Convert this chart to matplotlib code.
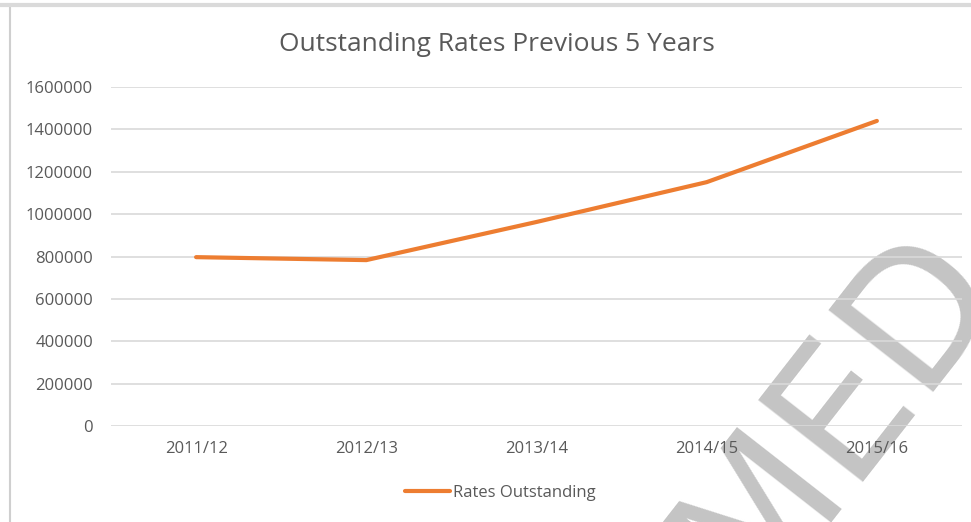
import matplotlib.pyplot as plt
from matplotlib.lines import Line2D

years = ["2011/12", "2012/13", "2013/14", "2014/15", "2015/16"]
rates_outstanding = [797000, 783000, 963000, 1151000, 1440000]
y_ticks = [0, 200000, 400000, 600000, 800000, 1000000, 1200000, 1400000, 1600000]

plt.rcParams['font.family'] = ['Open Sans', 'DejaVu Sans']

fig = plt.figure(figsize=(9.71, 5.22), dpi=100)
ax = fig.add_axes([0.1143, 0.1839, 0.8764, 0.6494])
ax.patch.set_alpha(0)

x = list(range(len(years)))
ax.plot(x, rates_outstanding, color='#ED7D31', linewidth=3, solid_capstyle='round',
        label="Rates Outstanding")

ax.set_xlim(-0.5, len(years) - 0.5)
ax.set_ylim(0, 1600000)
ax.set_yticks(y_ticks)
ax.set_yticklabels([str(v) for v in y_ticks])
ax.set_xticks(x)
ax.set_xticklabels(years)
ax.tick_params(length=0, labelsize=12, colors='#595959')
ax.tick_params(axis='y', pad=13)
ax.tick_params(axis='x', pad=11)
ax.grid(axis='y', color='#D9D9D9', linewidth=1.2)
ax.set_axisbelow(True)
for s in ax.spines.values():
    s.set_visible(False)

fig.text(0.512, 0.915, "Outstanding Rates Previous 5 Years", ha='center', va='center',
         fontsize=19, color='#595959')

fig.legend(loc='center', bbox_to_anchor=(0.515, 0.055), frameon=False, fontsize=12,
           handlelength=2.7, handletextpad=0.2, labelcolor='#595959')

# frame lines of the original screenshot
fig.add_artist(Line2D([0.0105, 0.0105], [0, 0.99], transform=fig.transFigure,
                      color='#CFCFCF', linewidth=1.5))
fig.add_artist(Line2D([0, 1], [0.99, 0.99], transform=fig.transFigure,
                      color='#DADADA', linewidth=3))

# watermark, behind the chart
fig.text(0.862, 0.21, "MED", fontsize=130, color='#C4C4C4', rotation=52,
         ha='center', va='center', family='DejaVu Sans', zorder=-1)

fig.savefig("out.png", dpi=100)
